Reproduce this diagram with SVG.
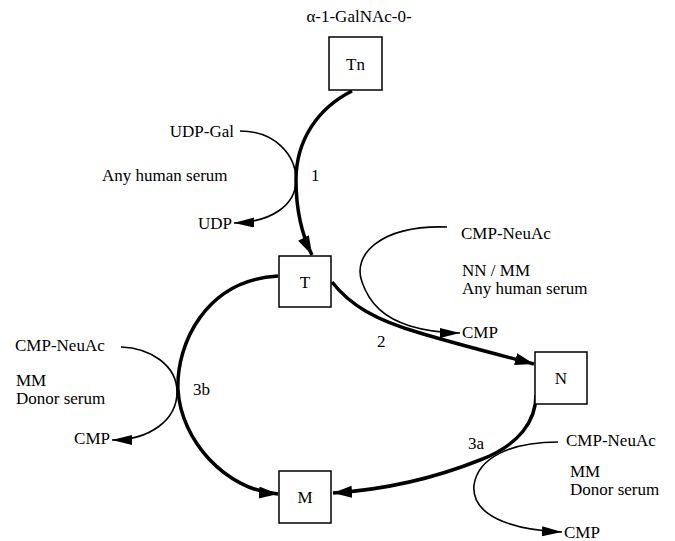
<svg xmlns="http://www.w3.org/2000/svg" width="675" height="541" viewBox="0 0 675 541">
<style>
text{font-family:"Liberation Serif","Times New Roman",serif;font-size:17px;fill:#000}
.box{fill:#fff;stroke:#000;stroke-width:1.5}
.thick{fill:none;stroke:#000;stroke-width:3.5}
.thin{fill:none;stroke:#000;stroke-width:1.6}
.mid{text-anchor:middle}
.end{text-anchor:end}
</style>
<defs>
<marker id="ah" markerUnits="userSpaceOnUse" markerWidth="22" markerHeight="14" refX="19" refY="6" orient="auto">
<path d="M0,0 L19,6 L0,12 Z" fill="#000"/>
</marker>
<marker id="ahs" markerUnits="userSpaceOnUse" markerWidth="22" markerHeight="12" refX="20" refY="5" orient="auto">
<path d="M0,0 L20,5 L0,10 Z" fill="#000"/>
</marker>
</defs>
<rect width="675" height="541" fill="#fff"/>
<text x="359" y="22" class="mid">α-1-GalNAc-0-</text>
<g id="connectors">
<path class="thick" d="M352 91 C318 108 296 140 296 180 C296 215 303 237 312 255" marker-end="url(#ah)"/>
<path class="thin" d="M240 131 C275 131 296 155 296 180 C296 205 272 222 234 223" marker-end="url(#ahs)"/>
<path class="thick" d="M332 282 C350 305 375 320 420 333 C460 345 500 355 534 364" marker-end="url(#ah)"/>
<path class="thin" d="M447 227 C380 225 352 255 362 282 C370 305 385 318 410 326 C430 332 445 333 460 333" marker-end="url(#ahs)"/>
<path class="thick" d="M278 276 C205 280 176 345 178 390 C181 440 225 490 278 494" marker-end="url(#ah)"/>
<path class="thin" d="M121 347 C150 348 177 365 177 392 C177 420 150 440 112 440" marker-end="url(#ahs)"/>
<path class="thick" d="M536 395 C536 420 520 445 480 460 C430 480 380 490 333 493" marker-end="url(#ah)"/>
<path class="thin" d="M558 442 C510 442 478 458 474 485 C471 515 510 530 562 532" marker-end="url(#ahs)"/>
</g>
<g id="Tn"><rect class="box" x="329" y="37" width="53" height="53"/><text x="355.5" y="70" class="mid">Tn</text></g>
<g id="T"><rect class="box" x="279" y="256" width="52" height="51"/><text x="305" y="288" class="mid">T</text></g>
<g id="N"><rect class="box" x="535" y="352" width="52" height="52"/><text x="561" y="384" class="mid">N</text></g>
<g id="M"><rect class="box" x="279" y="471" width="52" height="52"/><text x="305" y="503" class="mid">M</text></g>
<g id="labels">
<text x="234" y="137" class="end">UDP-Gal</text>
<text x="102" y="181">Any human serum</text>
<text x="311" y="181">1</text>
<text x="232" y="229" class="end">UDP</text>
<text x="461" y="239">CMP-NeuAc</text>
<text x="462" y="276">NN / MM</text>
<text x="462" y="294">Any human serum</text>
<text x="462" y="338">CMP</text>
<text x="377" y="347">2</text>
<text x="15" y="351">CMP-NeuAc</text>
<text x="16" y="386">MM</text>
<text x="16" y="404">Donor serum</text>
<text x="193" y="395">3b</text>
<text x="110" y="444" class="end">CMP</text>
<text x="566" y="446">CMP-NeuAc</text>
<text x="570" y="477">MM</text>
<text x="570" y="495">Donor serum</text>
<text x="468" y="449">3a</text>
<text x="564" y="538">CMP</text>
</g>
</svg>
